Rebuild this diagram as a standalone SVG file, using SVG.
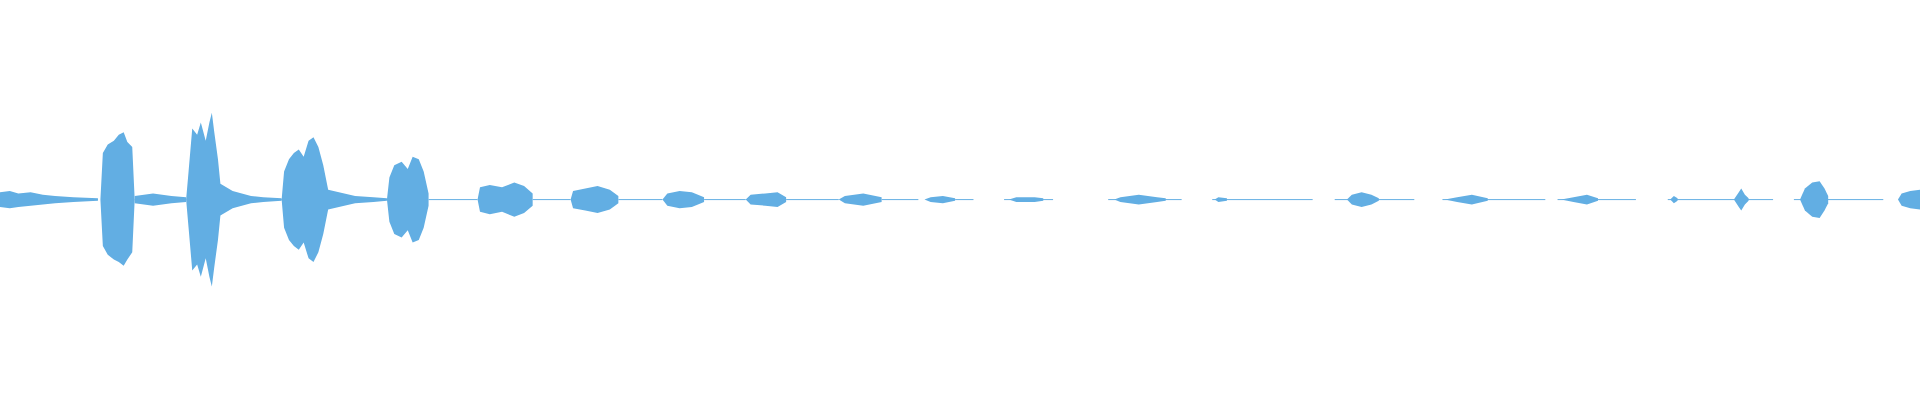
<svg xmlns="http://www.w3.org/2000/svg" width="1920" height="400" viewBox="0 0 1920 400">
<style>.w{fill:#62aee3}.l{stroke:#62aee3;stroke-width:0.8;fill:none}.s{stroke:#62aee3;stroke-width:0.6}</style>
<rect width="1920" height="400" fill="#fff"/>
<g transform="scale(1.2245)">
<path class="l" d="M0 163H80M110 163H152M180 163H230M268 163H316M350 163H390M435 163H466M505 163H541M575 163H609M642 163H685M720 163H750M780 163H795M820 163H860M905 163H965M990 163H1072M1090 163H1155M1178 163H1262M1272 163H1336M1362 163H1448M1465 163H1538"/>
<path class="w" d="M0 157L8 156L15 158L25 157L35 159L45 160L60 161L80 162L80 164L60 165L45 166L35 167L25 168L15 169L8 170L0 169Z"/>
<path class="w" d="M82 163L84 125L88 118L93 115L97 110L101 108L104 116L108 120L110 163L108 206L104 212L101 217L97 214L93 212L88 208L84 201Z"/>
<path class="w" d="M110 160L125 158L140 160L152 161L152 165L140 166L125 168L110 166Z"/>
<path class="w" d="M152 163L154 140L157 105L161 110L164 100L168 115L171 100L173 92L175 108L178 130L180 150L190 156L205 160L215 161L230 162L230 164L215 165L205 166L190 170L180 176L178 196L175 218L173 234L171 226L168 211L164 226L161 216L157 221L154 186Z"/>
<path class="w" d="M230 163L232 140L236 130L240 125L244 122L248 128L252 115L256 112L260 120L264 135L268 155L290 160L305 161L316 162L316 164L305 165L290 166L268 171L264 191L260 206L256 214L252 211L248 198L244 204L240 201L236 196L232 186Z"/>
<path class="w" d="M316 163L318 145L322 135L328 132L333 138L337 128L342 130L346 140L350 158L350 168L346 186L342 196L337 198L333 188L328 194L322 191L318 181Z"/>
<path class="w" d="M390 163L392 153L400 151L410 153L420 149L428 152L435 158L435 168L428 174L420 177L410 173L400 175L392 173Z"/>
<path class="w" d="M466 163L468 156L478 154L488 152L498 155L505 160L505 166L498 171L488 174L478 172L468 170Z"/>
<path class="w" d="M541 163L545 158L555 156L565 157L575 161L575 165L565 169L555 170L545 168Z"/>
<path class="w" d="M609 163L613 159L625 158L635 157L642 161L642 165L635 169L625 168L613 167Z"/>
<path class="w" d="M685 163L690 160L705 158L720 161L720 165L705 168L690 166Z"/>
<path class="w" d="M755 163L760 161L770 160L780 162L780 164L770 166L760 165Z"/>
<path class="w" d="M824 163L830 161L845 161L852 162L852 164L845 165L830 165Z"/>
<path class="w" d="M910 163L915 161L930 159L945 161L952 162L952 164L945 165L930 167L915 165Z"/>
<path class="w" d="M992 163L995 161L1002 162L1002 164L995 165Z"/>
<path class="w" d="M1100 163L1104 159L1112 157L1120 159L1126 162L1126 164L1120 167L1112 169L1104 167Z"/>
<path class="w" d="M1180 163L1190 161L1202 159L1215 162L1215 164L1202 167L1190 165Z"/>
<path class="w" d="M1275 163L1285 161L1296 159L1305 162L1305 164L1296 167L1285 165Z"/>
<path class="w" d="M1364 163L1367 160L1370 162L1370 164L1367 166Z"/>
<path class="w" d="M1416 163L1420 157L1422 154L1425 159L1428 162L1428 164L1425 167L1422 172L1420 169Z"/>
<path class="w" d="M1470 163L1474 154L1480 149L1486 148L1490 154L1493 160L1493 166L1490 172L1486 178L1480 177L1474 172Z"/>
<path class="w" d="M1550 163L1553 158L1560 156L1568 155L1568 171L1560 170L1553 168Z"/>
</g>
</svg>
